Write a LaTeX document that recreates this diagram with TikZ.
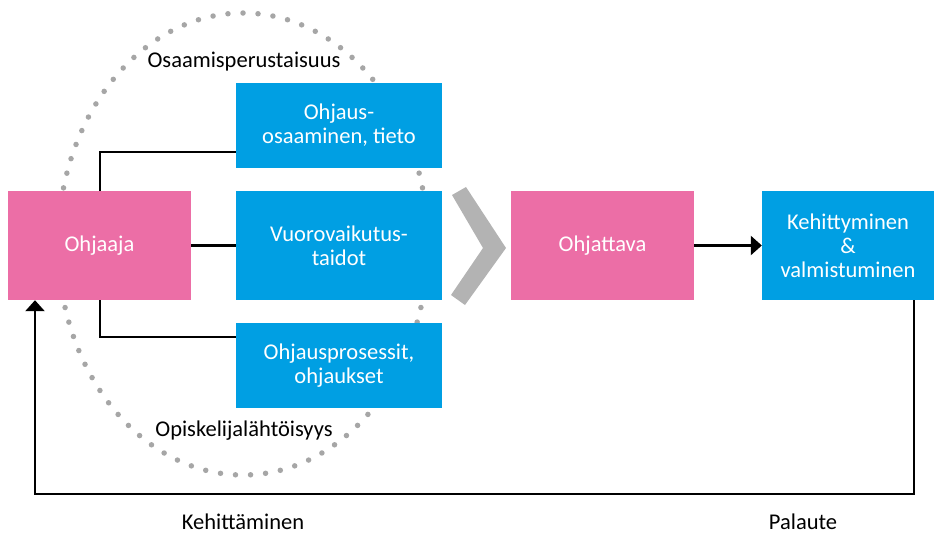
\documentclass[tikz,border=0pt]{standalone}
\usepackage{fontspec}
\setmainfont{Carlito}
\usetikzlibrary{arrows.meta}
\definecolor{pinkc}{HTML}{EC6EA6}
\definecolor{bluec}{HTML}{009FE3}
\definecolor{chevc}{HTML}{B3B3B3}
\definecolor{dotc}{HTML}{A6A6A6}
\begin{document}
\begin{tikzpicture}[x=1pt,y=-1pt,
  box/.style={inner sep=0pt, align=center, text=white, font=\fontsize{22.5}{24}\selectfont},
  pinkbox/.style={box, fill=pinkc},
  bluebox/.style={box, fill=bluec},
  lbl/.style={inner sep=0pt, align=center, text=black, font=\fontsize{22.5}{24}\selectfont},
  conn/.style={draw=black, line width=2.5pt},
  arr/.style={conn, -{Triangle[length=11pt,width=19pt]}},
  dots/.style={draw=dotc, line width=5.5pt, line cap=round, dash pattern=on 0pt off 15.07pt}
]
\useasboundingbox (0,0) rectangle (934,536);
% dotted ellipse
\draw[dots] (243,13) arc[start angle=90, end angle=450, x radius=185pt, y radius=231pt];
% boxes
\node[pinkbox, minimum width=183pt, minimum height=109pt] (ohjaaja) at (99.5,245.5) {Ohjaaja};
\node[bluebox, minimum width=206pt, minimum height=85pt] (tieto) at (339,125.5) {Ohjaus-\\osaaminen, tieto};
\node[bluebox, minimum width=206pt, minimum height=109pt] (vuoro) at (339,245.5) {Vuorovaikutus-\\taidot};
\node[bluebox, minimum width=206pt, minimum height=85pt] (prosessit) at (339,365.5) {Ohjausprosessit,\\ohjaukset};
\node[pinkbox, minimum width=183pt, minimum height=109pt] (ohjattava) at (602.5,245.5) {Ohjattava};
\node[bluebox, minimum width=172pt, minimum height=109pt] (kehitt) at (848,245.5) {Kehittyminen\\\&\\valmistuminen};
% chevron
\fill[chevc] (452,195) -- (466,187) -- (506,248) -- (465,305) -- (451,295) -- (483,248) -- cycle;
% labels
\node[lbl] (osa) at (244,62) {Osaamisperustaisuus};
\node[lbl] (opi) at (244,431) {Opiskelijalähtöisyys};
\node[lbl] (keh) at (243,522) {Kehittäminen};
\node[lbl] (pal) at (803,522) {Palaute};
% connectors
\coordinate (xl) at (100,0);
\draw[conn] (ohjaaja.north -| xl) |- ([yshift=-26.5pt]tieto.west);
\draw[conn] (ohjaaja.east) -- (vuoro.west);
\draw[conn] (ohjaaja.south -| xl) |- ([yshift=28.5pt]prosessit.west);
\draw[arr] (ohjattava.east) -- (kehitt.west);
\coordinate (fbr) at (914,494);
\coordinate (fbl) at (35,494);
\draw[arr] (kehitt.south -| fbr) -- (fbr) -- (fbl) -- (ohjaaja.south -| fbl);
\end{tikzpicture}
\end{document}
